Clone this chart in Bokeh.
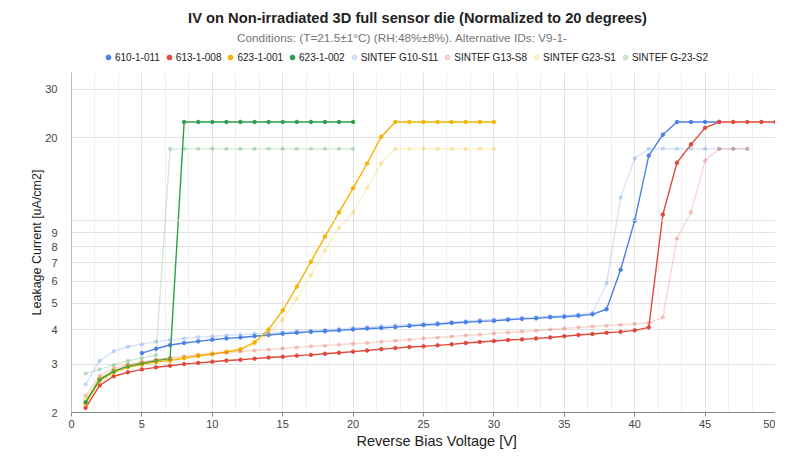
from bokeh.plotting import figure
from bokeh.layouts import column
from bokeh.models import FixedTicker, Legend, LegendItem, Span, BasicTickFormatter, Title
from bokeh.core.properties import value
from bokeh.embed import file_html
from bokeh.resources import INLINE

# ---------------- data ----------------
v_610 = list(range(5, 47))
i_610 = [3.29, 3.41, 3.52, 3.58, 3.63, 3.68, 3.72, 3.75, 3.79, 3.83, 3.87, 3.90, 3.93, 3.95,
         3.98, 4.01, 4.04, 4.06, 4.09, 4.13, 4.16, 4.19, 4.23, 4.26, 4.29, 4.31, 4.35, 4.38,
         4.40, 4.44, 4.46, 4.50, 4.55, 4.75, 6.61, 9.98, 17.2, 20.5, 22.8, 22.8, 22.8, 22.8]

v_613 = list(range(1, 51))
i_613 = [2.08, 2.51, 2.71, 2.80, 2.87, 2.92, 2.96, 3.00, 3.03, 3.06, 3.09, 3.11, 3.14, 3.17,
         3.19, 3.22, 3.24, 3.27, 3.30, 3.33, 3.36, 3.40, 3.43, 3.46, 3.48, 3.51, 3.54, 3.58,
         3.61, 3.64, 3.67, 3.69, 3.72, 3.75, 3.79, 3.83, 3.86, 3.90, 3.93, 3.98, 4.08, 10.5,
         16.2, 18.9, 21.7, 22.8, 22.8, 22.8, 22.8, 22.8]

v_623a = list(range(1, 31))
i_623a = [2.15, 2.61, 2.80, 2.92, 2.99, 3.05, 3.09, 3.15, 3.21, 3.26, 3.32, 3.39, 3.60, 4.01,
          4.70, 5.74, 7.07, 8.73, 10.69, 13.09, 16.1, 20.16, 22.8, 22.8, 22.8, 22.8, 22.8,
          22.8, 22.8, 22.8]

v_623b = list(range(1, 21))
i_623b = [2.18, 2.64, 2.83, 2.95, 3.02, 3.09, 3.14, 22.8, 22.8, 22.8, 22.8, 22.8, 22.8, 22.8,
          22.8, 22.8, 22.8, 22.8, 22.8, 22.8]

v_g10 = list(range(1, 49))
i_g10 = [2.53, 3.08, 3.34, 3.47, 3.54, 3.62, 3.67, 3.72, 3.76, 3.78, 3.81, 3.84, 3.87, 3.89,
         3.92, 3.95, 3.97, 4.00, 4.03, 4.06, 4.09, 4.12, 4.15, 4.18, 4.21, 4.24, 4.27, 4.30,
         4.33, 4.36, 4.39, 4.42, 4.45, 4.48, 4.51, 4.55, 4.61, 5.90, 12.1, 16.8, 18.2, 18.2,
         18.2, 18.2, 18.2, 18.2, 18.2, 18.2]

v_g13 = list(range(1, 49))
i_g13 = [2.30, 2.72, 2.90, 3.00, 3.06, 3.11, 3.16, 3.20, 3.24, 3.27, 3.30, 3.33, 3.36, 3.39,
         3.42, 3.45, 3.48, 3.50, 3.53, 3.56, 3.58, 3.62, 3.65, 3.68, 3.72, 3.75, 3.78, 3.81,
         3.84, 3.88, 3.91, 3.94, 3.97, 4.01, 4.04, 4.08, 4.11, 4.14, 4.17, 4.20, 4.23, 4.44,
         8.59, 10.7, 16.5, 18.2, 18.2, 18.2]

v_g23 = list(range(1, 31))
i_g23 = [2.25, 2.68, 2.86, 2.97, 3.04, 3.10, 3.15, 3.20, 3.25, 3.30, 3.35, 3.42, 3.55, 3.86,
         4.35, 5.18, 6.31, 7.76, 9.39, 10.7, 13.15, 16.1, 18.2, 18.2, 18.2, 18.2, 18.2, 18.2,
         18.2, 18.2]

v_g23b = list(range(1, 21))
i_g23b = [2.77, 2.87, 2.98, 3.08, 3.16, 3.23, 18.2, 18.2, 18.2, 18.2, 18.2, 18.2, 18.2, 18.2,
          18.2, 18.2, 18.2, 18.2, 18.2, 18.2]

x_ticks = [0, 5, 10, 15, 20, 25, 30, 35, 40, 45, 50]
y_ticks = [2, 3, 4, 5, 6, 7, 8, 9, 20, 30]

title_text = "IV on Non-irradiated 3D full sensor die (Normalized to 20 degrees)"
subtitle_text = "Conditions: (T=21.5\u00b11\u00b0C) (RH:48%\u00b18%). Alternative IDs: V9-1-"
x_label = "Reverse Bias Voltage [V]"
y_label = "Leakage Current [uA/cm2]"

BLUE, RED, YELLOW, GREEN = "#4a80e8", "#df4a3c", "#f4b400", "#2e9e4e"
series = [
    ("610-1-011", v_610, i_610, BLUE, 1.0),
    ("613-1-008", v_613, i_613, RED, 1.0),
    ("623-1-001", v_623a, i_623a, YELLOW, 1.0),
    ("623-1-002", v_623b, i_623b, GREEN, 1.0),
    ("SINTEF G10-S11", v_g10, i_g10, BLUE, 0.22),
    ("SINTEF G13-S8", v_g13, i_g13, RED, 0.22),
    ("SINTEF G23-S1", v_g23, i_g23, YELLOW, 0.22),
    ("SINTEF G-23-S2", v_g23b, i_g23b, GREEN, 0.22),
]

FONT = "Liberation Sans"
W = 775
TOP_H = 72
MAIN_H = 453 - TOP_H
LEFT = 71

# ---------------- header figure (title, subtitle, legend) ----------------
# its frame is aligned with the main plot's frame by the column layout,
# so its x range spans the same pixel columns (LEFT .. W - 6)
h = figure(width=W, height=TOP_H, x_range=(LEFT, W - 6), y_range=(0, TOP_H),
           x_axis_location=None, y_axis_location=None,
           output_backend="svg", toolbar_location=None,
           min_border_left=LEFT, min_border_right=0, min_border_top=0, min_border_bottom=0)
h.grid.visible = False
h.outline_line_color = None

h.text(x=[414], y=[TOP_H - 17], text=[title_text], text_font=value(FONT),
       text_font_size="14.7px", text_font_style="bold", text_color="#222222",
       text_align="center", text_baseline="middle")
h.text(x=[399], y=[TOP_H - 37], text=[subtitle_text], text_font=value(FONT),
       text_font_size="11.8px", text_color="#757575",
       text_align="center", text_baseline="middle")

items = []
for name, xs, ys, col, a in series:
    # off-screen placeholder renderer, used only for the legend swatch
    r = h.scatter(x=[-500], y=[-500], size=5, fill_color=col, line_color=col,
                  fill_alpha=a, line_alpha=a)
    items.append(LegendItem(label=name, renderers=[r]))
legend = Legend(items=items, orientation="horizontal", location=(102 - LEFT, TOP_H - 63),
                label_text_font=FONT, label_text_font_size="10px", label_text_color="#222222",
                glyph_width=12, glyph_height=12, label_standoff=1, spacing=3,
                padding=0, margin=0, border_line_color=None, background_fill_alpha=0)
h.add_layout(legend, "center")

# ---------------- main figure ----------------
p = figure(width=W, height=MAIN_H, x_range=(0, 50), y_range=(2, 34.5), y_axis_type="log",
           output_backend="svg", toolbar_location=None,
           min_border_left=LEFT, min_border_right=0, min_border_bottom=41, min_border_top=0)
p.outline_line_color = None

minor_x = [i * 5 / 3 for i in range(31) if i % 3 != 0]
xt = FixedTicker(ticks=x_ticks, minor_ticks=minor_x)
p.xaxis.ticker = xt
p.xgrid.ticker = xt
p.xgrid.grid_line_color = "#e3e3e3"
p.xgrid.minor_grid_line_color = "#f0f0f0"

yt = FixedTicker(ticks=y_ticks)
p.yaxis.ticker = yt
p.ygrid.ticker = yt
p.yaxis.formatter = BasicTickFormatter()
p.ygrid.grid_line_color = "#e3e3e3"
p.add_layout(Span(location=10, dimension="width", line_color="#e3e3e3", line_width=1))

for ax in (p.xaxis, p.yaxis):
    ax.major_label_text_font = FONT
    ax.major_label_text_font_size = "11px"
    ax.major_label_text_color = "#444444"
    ax.axis_label_text_font = FONT
    ax.axis_label_text_font_style = "normal"
    ax.axis_label_text_color = "#222222"
    ax.minor_tick_line_color = None
p.xaxis.axis_line_color = "#888888"
p.xaxis.major_tick_line_color = "#888888"
p.xaxis.major_tick_out = 4
p.xaxis.major_tick_in = 0
p.xaxis.major_label_standoff = 3
p.yaxis.axis_label = y_label
p.yaxis.axis_label_text_font_size = "12.5px"
p.yaxis.axis_label_standoff = -2
p.yaxis.axis_line_color = "#bbbbbb"
p.yaxis.major_tick_line_color = None
p.yaxis.major_label_standoff = 8

xtitle = Title(text=x_label, align="left", offset=285, standoff=0,
               text_font=FONT, text_font_size="14.5px", text_font_style="normal",
               text_color="#222222")
p.add_layout(xtitle, "below")

for name, xs, ys, col, a in series:
    p.line(xs, ys, line_color=col, line_width=1.4, line_alpha=a)
    p.scatter(xs, ys, size=3.5, fill_color=col, line_color=col, fill_alpha=a, line_alpha=a)

layout = column(h, p, spacing=0)
open("out.html", "w").write(file_html(layout, INLINE))
